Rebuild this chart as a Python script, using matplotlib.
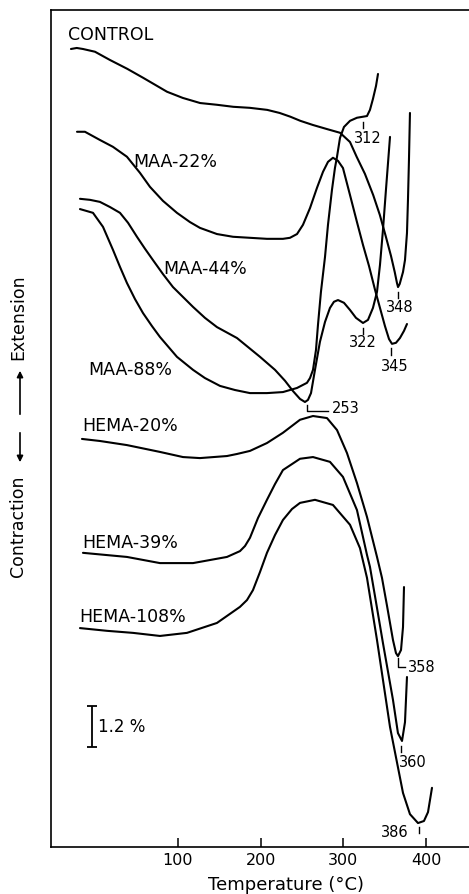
import numpy as np
import matplotlib.pyplot as plt

# Dilatometer traces: temperature (degC) vs. relative length change (%), offset per sample
temp_control = [-29, -22, -14.5, 0, 18, 39, 58, 75, 87, 106, 127, 147, 167, 187, 208, 223, 236, 248, 263, 280,
                296, 308, 316, 326, 336, 344, 351, 357.5, 362, 364.7, 366, 368, 372, 374.4, 376.8, 378, 379.2, 380.4]
ext_control = [23.33, 23.36, 23.33, 23.25, 23.01, 22.75, 22.49, 22.25, 22.08, 21.90, 21.75, 21.70, 21.64, 21.61,
               21.55, 21.46, 21.35, 21.23, 21.11, 20.99, 20.88, 20.61, 20.18, 19.68, 19.06, 18.48, 17.87, 17.28,
               16.81, 16.49, 16.37, 16.46, 16.81, 17.16, 17.95, 18.92, 20.09, 21.46]

temp_maa22 = [-21.7, -12.1, 6.0, 21.7, 38.6, 54.3, 66.4, 82.1, 99.0, 114.7, 126.8, 147.3, 166.7, 187.2, 207.7,
              227.0, 235.5, 244.0, 251.2, 259.7, 268.1, 275.4, 281.4, 287.4, 293.5, 299.5, 308.0, 316.4, 323.7,
              330.9, 338.2, 344.2, 350.2, 355.1, 358.7, 363.5, 368.3, 373.2, 376.8]
ext_maa22 = [20.91, 20.91, 20.67, 20.47, 20.18, 19.71, 19.30, 18.89, 18.54, 18.27, 18.10, 17.92, 17.84, 17.81,
             17.78, 17.78, 17.81, 17.92, 18.19, 18.68, 19.27, 19.74, 20.03, 20.15, 20.06, 19.85, 19.06, 18.27,
             17.60, 16.99, 16.29, 15.76, 15.23, 14.85, 14.71, 14.74, 14.88, 15.09, 15.29]

temp_maa44 = [-18.1, -6.0, 6.0, 18.1, 30.2, 39.9, 50.7, 60.4, 70.0, 82.1, 94.2, 106.3, 118.4, 132.8, 147.3,
              171.5, 199.3, 217.4, 229.5, 239.1, 247.6, 253.6, 257.2, 260.9, 265.7, 271.7, 277.8, 283.8, 288.6,
              293.5, 300.7, 308.0, 315.2, 323.7, 329.7, 335.7, 340.6, 344.2, 347.8, 351.4, 353.9, 356.3]
ext_maa44 = [18.95, 18.92, 18.86, 18.71, 18.54, 18.25, 17.84, 17.49, 17.16, 16.75, 16.37, 16.08, 15.79, 15.47,
             15.20, 14.88, 14.33, 13.95, 13.63, 13.33, 13.10, 13.01, 13.07, 13.27, 13.95, 14.77, 15.35, 15.76,
             15.94, 15.99, 15.91, 15.70, 15.47, 15.32, 15.41, 15.76, 16.23, 17.02, 18.04, 19.21, 20.00, 20.76]

temp_maa88 = [-18.1, -2.4, 9.7, 21.7, 30.2, 38.6, 48.3, 58.0, 68.8, 78.5, 99.0, 118.4, 132.8, 151.0, 169.1,
              187.2, 207.7, 227.0, 244.0, 256.0, 259.7, 263.3, 266.9, 269.3, 272.9, 277.8, 281.4, 286.2, 289.8,
              292.3, 295.9, 300.7, 308.0, 316.4, 323.7, 328.5, 332.1, 335.7, 339.4, 341.8]
ext_maa88 = [18.65, 18.54, 18.13, 17.46, 16.96, 16.49, 16.02, 15.61, 15.23, 14.91, 14.33, 13.95, 13.71, 13.48,
             13.36, 13.27, 13.27, 13.30, 13.42, 13.57, 13.71, 13.95, 14.53, 15.26, 16.23, 17.25, 18.19, 19.21,
             19.85, 20.18, 20.73, 21.05, 21.23, 21.32, 21.35, 21.37, 21.55, 21.87, 22.25, 22.60]

temp_hema20 = [-15.7, 6.0, 38.6, 78.5, 106.3, 126.8, 159.4, 171.5, 187.2, 207.7, 227.0, 247.6, 263.3, 280.2,
               292.3, 304.3, 316.4, 328.5, 340.6, 346.6, 352.7, 359.9, 363.5, 365.9, 369.6, 372.0, 373.2]
ext_hema20 = [11.93, 11.87, 11.75, 11.55, 11.40, 11.37, 11.43, 11.49, 11.58, 11.81, 12.11, 12.49, 12.60, 12.54,
              12.19, 11.52, 10.64, 9.65, 8.48, 7.87, 7.05, 6.05, 5.67, 5.58, 5.76, 6.43, 7.60]

temp_hema39 = [-14.5, 38.6, 78.5, 118.4, 159.4, 175.1, 181.2, 187.2, 196.9, 207.7, 217.4, 227.0, 247.6, 263.3,
               283.8, 299.5, 316.4, 328.5, 332.1, 339.4, 347.8, 359.9, 365.9, 370.8, 374.4, 376.8]
ext_hema39 = [8.60, 8.48, 8.30, 8.30, 8.48, 8.65, 8.80, 9.04, 9.62, 10.15, 10.61, 11.02, 11.35, 11.40, 11.26,
              10.82, 9.85, 8.54, 8.19, 7.16, 5.96, 4.30, 3.33, 3.10, 3.65, 4.97]

temp_hema108 = [-18.1, 14.5, 45.9, 78.5, 111.1, 147.3, 175.1, 183.6, 190.8, 199.3, 207.7, 217.4, 227.0, 237.9,
                247.6, 265.7, 287.4, 308.0, 320.0, 328.5, 340.6, 356.3, 372.0, 380.4, 390.1, 397.3, 402.2, 407.0]
ext_hema108 = [6.40, 6.32, 6.26, 6.17, 6.26, 6.55, 7.02, 7.22, 7.51, 8.04, 8.60, 9.12, 9.56, 9.88, 10.06, 10.15,
               10.00, 9.42, 8.74, 7.87, 6.05, 3.51, 1.58, 0.96, 0.70, 0.76, 1.02, 1.73]

curve_names = ['CONTROL', 'MAA-22%', 'MAA-44%', 'MAA-88%', 'HEMA-20%', 'HEMA-39%', 'HEMA-108%']
curve_temps = [temp_control, temp_maa22, temp_maa44, temp_maa88, temp_hema20, temp_hema39, temp_hema108]
curve_exts = [ext_control, ext_maa22, ext_maa44, ext_maa88, ext_hema20, ext_hema39, ext_hema108]
name_T = [-32.6, 45.9, 82.1, -8.5, -15.7, -15.7, -19.3]
name_y = [23.73, 20.04, 16.89, 13.95, 12.30, 8.90, 6.71]

# peak temperatures marked on the traces
peak_labels = ['312', '348', '322', '345', '253', '358', '360', '386']
leader_T = [[323.7, 323.7], [365.9, 365.9], [323.7, 323.7], [357.5, 357.5],
            [256, 256, 281.4], [365.9, 365.9, 374.4], [369.6, 369.6], [391.3, 391.3]]
leader_y = [[21.2, 21.02], [16.23, 16.05], [15.18, 15.0], [14.59, 14.39],
            [12.92, 12.75, 12.75], [5.53, 5.26, 5.26], [2.95, 2.78], [0.58, 0.41]]
peak_T = [329.7, 368.3, 323.7, 362.3, 286.2, 378.0, 383.4, 362.3]
peak_y = [20.70, 15.76, 14.74, 14.06, 12.81, 5.26, 2.46, 0.41]
peak_ha = ['center', 'center', 'center', 'center', 'left', 'left', 'center', 'center']

# 1.2 % scale bar
bar_T = -3.6
bar_lo = 2.92
bar_len = 1.2

fig = plt.figure(figsize=(4.69, 8.94), dpi=100)
ax = fig.add_axes([51 / 469, 47 / 894, 1 - 51 / 469, 837 / 894])

for T, e in zip(curve_temps, curve_exts):
    ax.plot(T, e, color='black', lw=1.5, solid_joinstyle='round', solid_capstyle='round')

for name, x, y in zip(curve_names, name_T, name_y):
    ax.text(x, y, name, fontsize=12.5, ha='left', va='center')

for lab, lx, ly, tx, ty, ha in zip(peak_labels, leader_T, leader_y, peak_T, peak_y, peak_ha):
    ax.plot(lx, ly, color='black', lw=1.0)
    ax.text(tx, ty, lab, fontsize=10.5, ha=ha, va='center')

ax.errorbar([bar_T], [bar_lo + bar_len / 2], yerr=bar_len / 2, fmt='none', ecolor='black',
            elinewidth=1.3, capsize=3.8, capthick=1.3)
ax.text(bar_T + 7.2, bar_lo + bar_len / 2, '1.2 %', fontsize=12, ha='left', va='center')

ax.set_xlim(-53.1, 451.7)
ax.set_ylim(0, 24.47)
ax.set_xticks([100, 200, 300, 400])
ax.set_yticks([])
ax.tick_params(axis='x', direction='in', length=6.5, width=1.1, labelsize=11.5, pad=4)
ax.spines['right'].set_visible(False)
for s in ['left', 'top', 'bottom']:
    ax.spines[s].set_linewidth(1.2)

ax.set_xlabel('Temperature (°C)', fontsize=13)
ax.xaxis.set_label_coords((286 - 51) / 418, (847 - 876) / 837)

# vertical axis caption with arrows
fig.text(18 / 469, 1 - 317 / 894, 'Extension', rotation=90, fontsize=12.5, ha='center', va='center')
fig.text(18 / 469, 1 - 526 / 894, 'Contraction', rotation=90, fontsize=12.5, ha='center', va='center')
fig.patches.append(plt.matplotlib.patches.FancyArrowPatch((20 / 469, 1 - 417 / 894), (20 / 469, 1 - 368 / 894),
                   transform=fig.transFigure, arrowstyle='-|>', mutation_scale=9, lw=1.2, color='black'))
fig.patches.append(plt.matplotlib.patches.FancyArrowPatch((20 / 469, 1 - 430 / 894), (20 / 469, 1 - 465 / 894),
                   transform=fig.transFigure, arrowstyle='-|>', mutation_scale=9, lw=1.2, color='black'))

fig.savefig('out.png', dpi=100)
